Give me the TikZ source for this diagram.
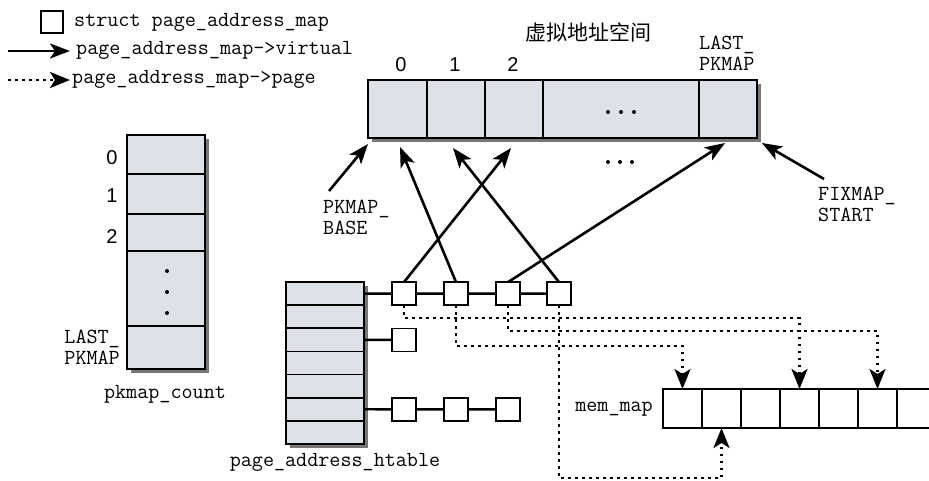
\documentclass[tikz,border=0pt]{standalone}
\usepackage{fontspec}
\newfontfamily\sansf{Liberation Sans}
\newfontfamily\cjkf{Noto Sans CJK SC}
\usetikzlibrary{arrows.meta,calc}
\definecolor{cellfill}{HTML}{DCE2E7}
\definecolor{shadowc}{HTML}{777777}
\tikzset{
 cell/.style={draw=black, line width=1.6pt, fill=cellfill, inner sep=0pt, outer sep=0pt},
 pbox/.style={draw=black, line width=1.6pt, fill=white, minimum width=24pt, minimum height=23pt, inner sep=0pt, outer sep=0pt},
 mcell/.style={draw=black, line width=1.6pt, fill=white, minimum width=39pt, minimum height=39pt, inner sep=0pt, outer sep=0pt},
 mono/.style={font=\ttfamily\fontsize{21.5}{21}\selectfont, inner sep=0pt},
 sansl/.style={font=\sansf\fontsize{20}{21}\selectfont, inner sep=0pt},
 cjkl/.style={font=\cjkf\fontsize{21}{24}\selectfont, inner sep=0pt},
 varrow/.style={line width=2.6pt, -{Stealth[length=20pt,width=15pt,inset=5pt]}},
 parrow/.style={line width=2.8pt, dash pattern=on 2.8pt off 4.2pt, -{Stealth[length=20pt,width=16pt,inset=5pt]}},
 link/.style={line width=2.4pt},
 tdot/.style={circle, fill=black, inner sep=0pt, minimum size=4pt},
}
\begin{document}
\begin{tikzpicture}[x=1pt,y=-1pt]
\clip (0,0) rectangle (929,480);
\fill[white] (0,0) rectangle (929,480);

% ---------- legend ----------
\node[pbox, minimum width=22pt, minimum height=22pt] (lg) at (52,22) {};
\node[mono, anchor=west] (lgt1) at (74,22) {struct page\_address\_map};
\coordinate (l2s) at (8,51); \coordinate (l2e) at (70,51);
\draw[varrow] (l2s) -- (l2e);
\node[mono, anchor=west] (lgt2) at (76,50) {page\_address\_map->virtual};
\coordinate (l3s) at (8,80); \coordinate (l3e) at (70,80);
\draw[parrow] (l3s) -- (l3e);
\node[mono, anchor=west] (lgt3) at (72,79) {page\_address\_map->page};

% ---------- virtual address space ----------
\fill[shadowc] (372,84) rectangle (761,142);
\node[cell, minimum width=59pt, minimum height=58pt] (v0) at (397.5,109) {};
\node[cell, minimum width=58pt, minimum height=58pt] (v1) at (456,109) {};
\node[cell, minimum width=58pt, minimum height=58pt] (v2) at (514,109) {};
\node[cell, minimum width=156pt, minimum height=58pt] (vd) at (621,109) {};
\node[cell, minimum width=58pt, minimum height=58pt] (vl) at (728,109) {};
\node[cjkl] (title) at (588,32) {虚拟地址空间};
\node[sansl] (n0) at (401,65) {0};
\node[sansl] (n1) at (455,65) {1};
\node[sansl] (n2) at (513,65) {2};
\node[mono, align=left, anchor=west] (lastv) at (699,53) {LAST\_\\PKMAP};
\node[tdot] (vd1) at (608,112) {};
\node[tdot] (vd2) at (621,112) {};
\node[tdot] (vd3) at (634,112) {};
\node[tdot] (bd1) at (608,162) {};
\node[tdot] (bd2) at (620,162) {};
\node[tdot] (bd3) at (632,162) {};

% PKMAP_BASE / FIXMAP_START
\node[mono, align=left, anchor=west] (pbase) at (323,217) {PKMAP\_\\BASE};
\coordinate (pbs) at (329,191); \coordinate (pbt) at (368,144);
\draw[varrow] (pbs) -- (pbt);
\node[mono, align=left, anchor=west] (fstart) at (818,204) {FIXMAP\_\\START};
\coordinate (fss) at (824,179); \coordinate (fst) at (762,143);
\draw[varrow] (fss) -- (fst);

% ---------- pkmap_count ----------
\fill[shadowc] (131,139) rectangle (209,373);
\node[cell, minimum width=78pt, minimum height=39pt] (pk0) at (166,154.5) {};
\node[cell, minimum width=78pt, minimum height=40pt] (pk1) at (166,194) {};
\node[cell, minimum width=78pt, minimum height=37pt] (pk2) at (166,232.5) {};
\node[cell, minimum width=78pt, minimum height=75pt] (pk3) at (166,288.5) {};
\node[cell, minimum width=78pt, minimum height=43pt] (pk4) at (166,347.5) {};
\node[sansl] (p0) at (112,158) {0};
\node[sansl] (p1) at (112,196) {1};
\node[sansl] (p2) at (112,237) {2};
\node[tdot] (pd1) at (167,271) {};
\node[tdot] (pd2) at (167,292) {};
\node[tdot] (pd3) at (167,313) {};
\node[mono, align=left, anchor=east] (lastp) at (120,347) {LAST\_\\PKMAP};
\node[mono] (pkc) at (165,394) {pkmap\_count};

% ---------- page_address_htable ----------
\fill[shadowc] (290,286) rectangle (368,448);
\foreach \i in {1,...,7}
  \node[cell, minimum width=78pt, minimum height=23.14pt] (h\i) at (325,{282+23.143*(\i-0.5)}) {};
\node[mono] (htl) at (335,462) {page\_address\_htable};

\node[pbox] (a1) at (404,293.6) {};
\node[pbox] (a2) at (456,293.6) {};
\node[pbox] (a3) at (508,293.6) {};
\node[pbox] (a4) at (559,293.6) {};
\node[pbox] (b1) at (404,339.9) {};
\node[pbox] (c1) at (404,409.3) {};
\node[pbox] (c2) at (456,409.3) {};
\node[pbox] (c3) at (508,409.3) {};
\draw[link] (h1.east) -- (a1.west) (a1.east) -- (a2.west) (a2.east) -- (a3.west) (a3.east) -- (a4.west);
\draw[link] (h3.east) -- (b1.west);
\draw[link] (h6.east) -- (c1.west) (c1.east) -- (c2.west) (c2.east) -- (c3.west);

% ---------- mem_map ----------
\foreach \i in {1,...,7}
  \node[mcell] (m\i) at ({663+39*(\i-0.5)},408.5) {};
\node[mono, anchor=east] (mml) at (653,409) {mem\_map};

% ---------- virtual pointers ----------
\coordinate (tv0) at (400,147);
\coordinate (tv1) at (453,148);
\coordinate (tv2) at (511,148);
\coordinate (tvl) at (725,143);
\draw[varrow] (a1.north) -- (tv2);
\draw[varrow] (a2.north) -- (tv0);
\draw[varrow] (a4.north) -- (tv1);
\draw[varrow] (a3.north) -- (tvl);

% ---------- page pointers ----------
\coordinate (r1) at (0,318);
\coordinate (r2) at (0,331);
\coordinate (r3) at (0,346);
\coordinate (r4) at (0,478);
\draw[parrow] (a1.south) -- (a1.south |- r1) -- (m4.north |- r1) -- (m4.north);
\draw[parrow] (a3.south) -- (a3.south |- r2) -- (m6.north |- r2) -- (m6.north);
\draw[parrow] (a2.south) -- (a2.south |- r3) -- (m1.north |- r3) -- (m1.north);
\draw[parrow] (a4.south) -- (a4.south |- r4) -- (m2.south |- r4) -- (m2.south);
\end{tikzpicture}
\end{document}
